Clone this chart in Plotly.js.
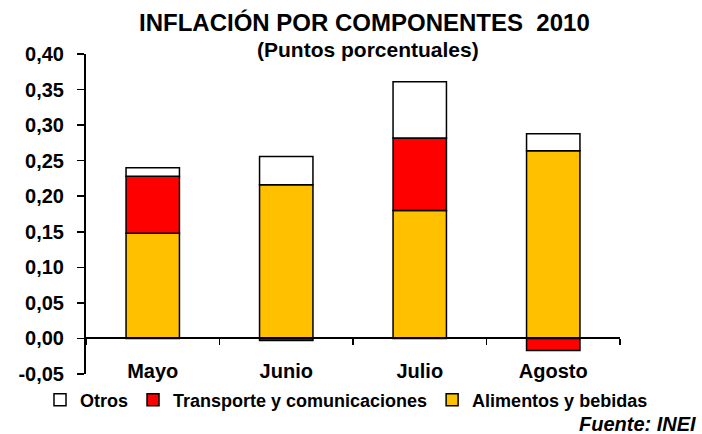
<!DOCTYPE html>
<html>
<head>
<meta charset="utf-8">
<script src="https://cdn.plot.ly/plotly-3.0.1.min.js"></script>
<style>html,body{margin:0;padding:0;background:#fff}#chart{width:702px;height:434px}</style>
</head>
<body>
<div id="chart"></div>
<script>
const categories = ["Mayo", "Junio", "Julio", "Agosto"];
const alimentos = [0.148, 0.216, 0.180, 0.264];
const transporte = [0.080, -0.003, 0.102, -0.017];
const otros = [0.012, 0.040, 0.079, 0.024];
const yTicks = [-0.05, 0, 0.05, 0.10, 0.15, 0.20, 0.25, 0.30, 0.35, 0.40];
const yTickText = yTicks.map(v => v.toFixed(2).replace(".", ","));

const font = "Liberation Sans, Arial, sans-serif";
const line = {color: "#000", width: 1.5};

const data = [
  {type: "bar", name: "Alimentos y bebidas", x: categories, y: alimentos, marker: {color: "#FFC000", line: line}, width: 0.4},
  {type: "bar", name: "Transporte y comunicaciones", x: categories, y: transporte, marker: {color: "#FF0000", line: line}, width: 0.4},
  {type: "bar", name: "Otros", x: categories, y: otros, marker: {color: "#FFFFFF", line: line}, width: 0.4}
];

const pxY = p => (374 - p) / 320;
const pxX = p => (p - 86) / 534;

const layout = {
  width: 702, height: 434,
  margin: {l: 86, r: 82, t: 54, b: 60, autoexpand: false},
  paper_bgcolor: "#fff", plot_bgcolor: "#fff",
  barmode: "relative",
  font: {family: font, color: "#000", size: 16},
  showlegend: true,
  legend: {
    orientation: "h", traceorder: "reversed",
    x: pxX(40), xanchor: "left",
    y: pxY(400), yanchor: "middle",
    font: {family: font, size: 18, weight: "bold", color: "#000"},
    itemwidth: 30, tracegroupgap: 0, bgcolor: "rgba(0,0,0,0)"
  },
  xaxis: {
    anchor: "free", position: 0.05/0.45,
    showline: true, linecolor: "#000", linewidth: 2,
    ticks: "outside", tickson: "boundaries", ticklen: 6, tickcolor: "#000", tickwidth: 1.5,
    tickfont: {family: font, size: 20, weight: "bold", color: "#000"},
    ticklabelstandoff: 15,
    showgrid: false, zeroline: false
  },
  yaxis: {
    range: [-0.05, 0.40],
    tickvals: yTicks, ticktext: yTickText,
    showline: true, linecolor: "#000", linewidth: 2,
    ticks: "outside", ticklen: 7, tickcolor: "#000", tickwidth: 1.5,
    tickfont: {family: font, size: 20, weight: "bold", color: "#000"},
    ticklabelstandoff: 9,
    showgrid: false, zeroline: false
  },
  annotations: [
    {text: "INFLACIÓN POR COMPONENTES  2010", xref: "paper", yref: "paper", x: pxX(364), y: pxY(23), yanchor: "middle", showarrow: false,
     font: {family: font, size: 24, weight: "bold", color: "#000"}},
    {text: "(Puntos porcentuales)", xref: "paper", yref: "paper", x: pxX(368), y: pxY(49), yanchor: "middle", showarrow: false,
     font: {family: font, size: 21, weight: "bold", color: "#000"}},
    {text: "<i>Fuente: INEI</i>", xref: "paper", yref: "paper", x: pxX(698), xanchor: "right", y: pxY(424), yanchor: "middle", showarrow: false,
     font: {family: font, size: 20, weight: "bold", color: "#000"}}
  ]
};

Plotly.newPlot("chart", data, layout, {displayModeBar: false, staticPlot: true});
</script>
</body>
</html>
